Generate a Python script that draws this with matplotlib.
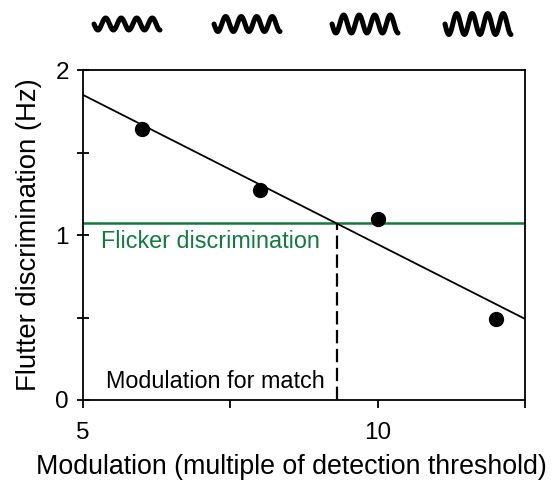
import matplotlib.pyplot as plt
import numpy as np

plt.rcParams['font.family'] = ['Liberation Sans', 'DejaVu Sans']

# --- Data ---
modulation = [6, 8, 10, 12]
flutter_disc = [1.64, 1.27, 1.10, 0.49]
flicker_level = 1.07

x_ticks = [5, 7.5, 10, 12.5]
x_ticklabels = ['5', '', '10', '']
y_ticks = [0, 0.5, 1, 1.5, 2]
y_ticklabels = ['0', '', '1', '', '2']

# wave icons above the plot (figure px centre, amplitude px)
wave_centres = [127, 247, 365, 478]
wave_amps = [6, 7.5, 9, 10.5]

GREEN = '#137a3f'

fig = plt.figure(figsize=(5.52, 4.84), dpi=100)
ax = fig.add_axes([83 / 552, 84 / 484, 442 / 552, 330 / 484])

# data points
ax.plot(modulation, flutter_disc, 'o', color='black', markersize=10, zorder=4)

# regression line across the full x range
slope, intercept = np.polyfit(modulation, flutter_disc, 1)
xfit = np.array([5, 12.5])
ax.plot(xfit, slope * xfit + intercept, color='black', lw=1.3, zorder=3)

# flicker discrimination level
ax.axhline(flicker_level, color=GREEN, lw=1.8, zorder=2)
ax.text(5.3, flicker_level - 0.04, 'Flicker discrimination', color=GREEN,
        fontsize=16.8, va='top', ha='left')

# modulation for match
x_match = (flicker_level - intercept) / slope
ax.plot([x_match, x_match], [0, flicker_level], color='black', lw=1.6,
        ls=(0, (6, 2.5)), zorder=3)
ax.text(x_match - 0.2, 0.045, 'Modulation for match', color='black',
        fontsize=16.8, va='bottom', ha='right')

ax.set_xlim(5, 12.5)
ax.set_ylim(0, 2)
ax.set_xticks(x_ticks)
ax.set_xticklabels(x_ticklabels)
ax.set_yticks(y_ticks)
ax.set_yticklabels(y_ticklabels)
ax.tick_params(axis='x', direction='out', length=6, width=1.3, labelsize=17.5, pad=10)
ax.tick_params(axis='y', direction='inout', length=8, width=1.3, labelsize=17.5, pad=6)
for s in ax.spines.values():
    s.set_linewidth(1.3)

ax.set_xlabel('Modulation (multiple of detection threshold)', fontsize=19.3)
ax.xaxis.set_label_coords(0.4706, -0.165)
ax.set_ylabel('Flutter discrimination (Hz)', fontsize=19.8, labelpad=10)

# wave icons
t = np.linspace(0, 1, 300)
for cx, amp in zip(wave_centres, wave_amps):
    xs = (cx - 33 + 66 * t) / 552
    ys = (484 - 24 + amp * np.sin(2 * np.pi * 4.25 * t + np.pi)) / 484
    fig.add_artist(plt.Line2D(xs, ys, color='black', lw=3.6,
                              solid_capstyle='round'))

fig.savefig('out.png', dpi=100)
